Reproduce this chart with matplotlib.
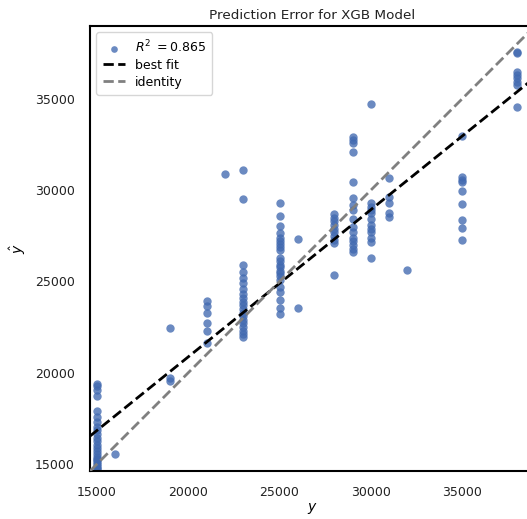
import numpy as np
import matplotlib
matplotlib.use("Agg")
import matplotlib.pyplot as plt

y_true = (
    [15000] * 24 + [16000] + [19000] * 3 + [21000] * 6 + [22000] + [23000] * 20
    + [25000] * 22 + [26000] * 2 + [28000] * 10 + [29000] * 16 + [30000] * 12
    + [31000] * 5 + [32000] + [35000] * 9 + [38000] * 8
)
y_pred = (
    # 15000
    [19400, 19250, 19050, 18700, 17900, 17600, 17300, 17050, 16850, 16650,
     16450, 16250, 16050, 15850, 15700, 15550, 15400, 15300, 15200, 15100,
     15000, 14900, 14800, 14700]
    # 16000
    + [15550]
    # 19000
    + [22450, 19700, 19550]
    # 21000
    + [23950, 23650, 23300, 22700, 22300, 21650]
    # 22000
    + [30900]
    # 23000
    + [31100, 29500, 25900, 25500, 25200, 24900, 24600, 24300, 24100, 23900,
       23700, 23500, 23300, 23100, 22900, 22700, 22500, 22300, 22100, 21950]
    # 25000
    + [29300, 28600, 28050, 27650, 27200, 27050, 26900, 26750, 26300, 25800,
       25600, 25450, 25300, 25100, 24700, 24400, 24000, 23550, 23200, 25900,
       27400, 26100]
    # 26000
    + [27350, 23550]
    # 28000
    + [28700, 28500, 28300, 28100, 27900, 27700, 27500, 27300, 27100, 25350]
    # 29000
    + [32900, 32750, 32600, 32100, 30450, 29600, 29200, 28900, 28400, 28000,
       27700, 27400, 27200, 27000, 26800, 26600]
    # 30000
    + [34700, 29300, 29100, 28900, 28750, 28400, 28100, 27900, 27700, 27400,
       27150, 26300]
    # 31000
    + [30650, 29650, 29300, 28750, 28550]
    # 32000
    + [25650]
    # 35000
    + [32950, 30700, 30550, 30450, 29950, 29250, 28350, 27950, 27250]
    # 38000
    + [37600, 37500, 36500, 36300, 36150, 35950, 35750, 34550]
)

r2_score = 0.865
fit_slope = 0.806
fit_intercept = 4750.0
axis_limits = [14616, 39000]
x_ticks = [15000, 20000, 25000, 30000, 35000]
y_ticks = [15000, 20000, 25000, 30000, 35000]
title = "Prediction Error for XGB Model"

W, H = 527, 519
fig = plt.figure(figsize=(W / 100, H / 100), dpi=100)
ax = fig.add_axes([90 / W, (H - 471) / H, 445 / W, 445 / H])

ax.scatter(y_true, y_pred, s=36, color="#4169B0", alpha=0.78, linewidths=0,
           label=r"$R^2$ $= {:0.3f}$".format(r2_score), zorder=2)

xs = np.array(axis_limits, dtype=float)
ax.plot(xs, fit_slope * xs + fit_intercept, color="black", linestyle="--",
        lw=2, label="best fit", zorder=3)
ax.plot(xs, xs, color="#808080", linestyle="--", lw=2, label="identity", zorder=3)

ax.set_xlim(axis_limits)
ax.set_ylim(axis_limits)
ax.set_xticks(x_ticks)
ax.set_yticks(y_ticks)
ax.tick_params(length=0, pad=11, labelsize=9, colors="#222222")
for sp in ax.spines.values():
    sp.set_color("black")
    sp.set_linewidth(1.5)

ax.set_title(title, fontsize=9.7, pad=5, color="#222222")
ax.set_xlabel(r"$y$", fontsize=10, labelpad=1)
ax.set_ylabel(r"$\hat{y}$", fontsize=10, labelpad=5)

leg = ax.legend(loc="upper left", frameon=True, fontsize=9, handlelength=1.8,
                borderpad=0.5, labelspacing=0.3, handletextpad=0.8,
                markerscale=0.8, fancybox=True)
leg.get_frame().set_edgecolor("#cccccc")

fig.savefig("out.png", dpi=100)
